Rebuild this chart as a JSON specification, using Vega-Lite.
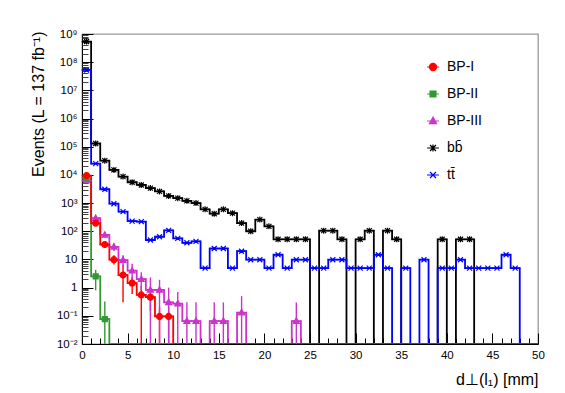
{
  "$schema": "https://vega.github.io/schema/vega-lite/v6.json",
  "width": 456,
  "height": 310,
  "autosize": {"type": "none"},
  "padding": {"left": 82, "top": 34, "right": 27, "bottom": 49},
  "background": "white",
  "config": {
    "view": {"stroke": "#999999", "strokeWidth": 1.3},
    "font": "Liberation Sans",
    "axis": {"domainColor": "black", "labelFont": "Liberation Sans", "titleFont": "Liberation Sans", "labelFontSize": 11.5, "titleFontSize": 16, "titleFontWeight": "normal", "labelColor": "black", "titleColor": "black", "grid": false, "tickColor": "black"},
    "legend": {"labelFont": "Liberation Sans", "labelFontSize": 14, "labelColor": "black", "symbolSize": 140, "symbolStrokeWidth": 1.2, "rowPadding": 13, "labelOffset": 7, "padding": 0}
  },
  "datasets": {
    "h": [
      {"x0": 0, "xc": 0.5, "BP-I": 9500, "BP-II": 8000, "BP-III": 6300, "bb\u0304": 540000000, "tt\u0304": 53000000},
      {"x0": 1, "xc": 1.5, "BP-I": 195, "BP-II": 2.5, "BP-III": 290, "bb\u0304": 130000, "tt\u0304": 25000},
      {"x0": 2, "xc": 2.5, "BP-I": 34, "BP-II": 0.076, "BP-III": 74, "bb\u0304": 32000, "tt\u0304": 3100},
      {"x0": 3, "xc": 3.5, "BP-I": 9.8, "BP-II": 0, "BP-III": 28, "bb\u0304": 15000, "tt\u0304": 950},
      {"x0": 4, "xc": 4.5, "BP-I": 2.8, "BP-II": 0, "BP-III": 9.5, "bb\u0304": 8700, "tt\u0304": 500},
      {"x0": 5, "xc": 5.5, "BP-I": 1.45, "BP-II": 0, "BP-III": 4.0, "bb\u0304": 5500, "tt\u0304": 230},
      {"x0": 6, "xc": 6.5, "BP-I": 0.55, "BP-II": 0, "BP-III": 2.0, "bb\u0304": 4400, "tt\u0304": 220},
      {"x0": 7, "xc": 7.5, "BP-I": 0.46, "BP-II": 0, "BP-III": 0.83, "bb\u0304": 3400, "tt\u0304": 49},
      {"x0": 8, "xc": 8.5, "BP-I": 0.095, "BP-II": 0, "BP-III": 0.83, "bb\u0304": 2600, "tt\u0304": 64},
      {"x0": 9, "xc": 9.5, "BP-I": 0.095, "BP-II": 0, "BP-III": 0.30, "bb\u0304": 1800, "tt\u0304": 108},
      {"x0": 10, "xc": 10.5, "BP-I": 0, "BP-II": 0, "BP-III": 0.27, "bb\u0304": 1500, "tt\u0304": 56},
      {"x0": 11, "xc": 11.5, "BP-I": 0, "BP-II": 0, "BP-III": 0.065, "bb\u0304": 1200, "tt\u0304": 39},
      {"x0": 12, "xc": 12.5, "BP-I": 0, "BP-II": 0, "BP-III": 0.065, "bb\u0304": 1000, "tt\u0304": 44},
      {"x0": 13, "xc": 13.5, "BP-I": 0, "BP-II": 0, "BP-III": 0, "bb\u0304": 600, "tt\u0304": 4.9},
      {"x0": 14, "xc": 14.5, "BP-I": 0, "BP-II": 0, "BP-III": 0.065, "bb\u0304": 420, "tt\u0304": 24.5},
      {"x0": 15, "xc": 15.5, "BP-I": 0, "BP-II": 0, "BP-III": 0.065, "bb\u0304": 600, "tt\u0304": 24.5},
      {"x0": 16, "xc": 16.5, "BP-I": 0, "BP-II": 0, "BP-III": 0, "bb\u0304": 440, "tt\u0304": 4.9},
      {"x0": 17, "xc": 17.5, "BP-I": 0, "BP-II": 0, "BP-III": 0.13, "bb\u0304": 195, "tt\u0304": 19.6},
      {"x0": 18, "xc": 18.5, "BP-I": 0, "BP-II": 0, "BP-III": 0, "bb\u0304": 100, "tt\u0304": 9.8},
      {"x0": 19, "xc": 19.5, "BP-I": 0, "BP-II": 0, "BP-III": 0, "bb\u0304": 260, "tt\u0304": 9.8},
      {"x0": 20, "xc": 20.5, "BP-I": 0, "BP-II": 0, "BP-III": 0, "bb\u0304": 150, "tt\u0304": 4.9},
      {"x0": 21, "xc": 21.5, "BP-I": 0, "BP-II": 0, "BP-III": 0, "bb\u0304": 52, "tt\u0304": 14.7},
      {"x0": 22, "xc": 22.5, "BP-I": 0, "BP-II": 0, "BP-III": 0, "bb\u0304": 52, "tt\u0304": 4.9},
      {"x0": 23, "xc": 23.5, "BP-I": 0, "BP-II": 0, "BP-III": 0.065, "bb\u0304": 52, "tt\u0304": 9.8},
      {"x0": 24, "xc": 24.5, "BP-I": 0, "BP-II": 0, "BP-III": 0, "bb\u0304": 52, "tt\u0304": 9.8},
      {"x0": 25, "xc": 25.5, "BP-I": 0, "BP-II": 0, "BP-III": 0, "bb\u0304": 0, "tt\u0304": 4.9},
      {"x0": 26, "xc": 26.5, "BP-I": 0, "BP-II": 0, "BP-III": 0, "bb\u0304": 105, "tt\u0304": 4.9},
      {"x0": 27, "xc": 27.5, "BP-I": 0, "BP-II": 0, "BP-III": 0, "bb\u0304": 105, "tt\u0304": 9.8},
      {"x0": 28, "xc": 28.5, "BP-I": 0, "BP-II": 0, "BP-III": 0, "bb\u0304": 52, "tt\u0304": 9.8},
      {"x0": 29, "xc": 29.5, "BP-I": 0, "BP-II": 0, "BP-III": 0, "bb\u0304": 0, "tt\u0304": 4.9},
      {"x0": 30, "xc": 30.5, "BP-I": 0, "BP-II": 0, "BP-III": 0, "bb\u0304": 52, "tt\u0304": 4.9},
      {"x0": 31, "xc": 31.5, "BP-I": 0, "BP-II": 0, "BP-III": 0, "bb\u0304": 105, "tt\u0304": 4.9},
      {"x0": 32, "xc": 32.5, "BP-I": 0, "BP-II": 0, "BP-III": 0, "bb\u0304": 0, "tt\u0304": 14.7},
      {"x0": 33, "xc": 33.5, "BP-I": 0, "BP-II": 0, "BP-III": 0, "bb\u0304": 105, "tt\u0304": 4.9},
      {"x0": 34, "xc": 34.5, "BP-I": 0, "BP-II": 0, "BP-III": 0, "bb\u0304": 52, "tt\u0304": 0},
      {"x0": 35, "xc": 35.5, "BP-I": 0, "BP-II": 0, "BP-III": 0, "bb\u0304": 0, "tt\u0304": 4.9},
      {"x0": 36, "xc": 36.5, "BP-I": 0, "BP-II": 0, "BP-III": 0, "bb\u0304": 0, "tt\u0304": 0},
      {"x0": 37, "xc": 37.5, "BP-I": 0, "BP-II": 0, "BP-III": 0, "bb\u0304": 0, "tt\u0304": 9.8},
      {"x0": 38, "xc": 38.5, "BP-I": 0, "BP-II": 0, "BP-III": 0, "bb\u0304": 0, "tt\u0304": 0},
      {"x0": 39, "xc": 39.5, "BP-I": 0, "BP-II": 0, "BP-III": 0, "bb\u0304": 52, "tt\u0304": 4.9},
      {"x0": 40, "xc": 40.5, "BP-I": 0, "BP-II": 0, "BP-III": 0, "bb\u0304": 0, "tt\u0304": 4.9},
      {"x0": 41, "xc": 41.5, "BP-I": 0, "BP-II": 0, "BP-III": 0, "bb\u0304": 52, "tt\u0304": 9.8},
      {"x0": 42, "xc": 42.5, "BP-I": 0, "BP-II": 0, "BP-III": 0, "bb\u0304": 52, "tt\u0304": 4.9},
      {"x0": 43, "xc": 43.5, "BP-I": 0, "BP-II": 0, "BP-III": 0, "bb\u0304": 0, "tt\u0304": 4.9},
      {"x0": 44, "xc": 44.5, "BP-I": 0, "BP-II": 0, "BP-III": 0, "bb\u0304": 0, "tt\u0304": 4.9},
      {"x0": 45, "xc": 45.5, "BP-I": 0, "BP-II": 0, "BP-III": 0, "bb\u0304": 0, "tt\u0304": 4.9},
      {"x0": 46, "xc": 46.5, "BP-I": 0, "BP-II": 0, "BP-III": 0, "bb\u0304": 0, "tt\u0304": 14.7},
      {"x0": 47, "xc": 47.5, "BP-I": 0, "BP-II": 0, "BP-III": 0, "bb\u0304": 0, "tt\u0304": 4.9},
      {"x0": 48, "xc": 48.5, "BP-I": 0, "BP-II": 0, "BP-III": 0, "bb\u0304": 0, "tt\u0304": 0},
      {"x0": 49, "xc": 49.5, "BP-I": 0, "BP-II": 0, "BP-III": 0, "bb\u0304": 0, "tt\u0304": 0},
      {"x0": 50, "BP-I": 0, "BP-II": 0, "BP-III": 0, "bb\u0304": 0, "tt\u0304": 0}
    ],
    "e": [
      {"s": "BP-I", "xc": 1.5, "lo": 165, "hi": 230},
      {"s": "BP-I", "xc": 2.5, "lo": 26, "hi": 44},
      {"s": "BP-I", "xc": 3.5, "lo": 6.6, "hi": 14},
      {"s": "BP-I", "xc": 4.5, "lo": 0.3, "hi": 6.5},
      {"s": "BP-I", "xc": 5.5, "lo": 0.6, "hi": 2.4},
      {"s": "BP-I", "xc": 6.5, "lo": 0, "hi": 1.2},
      {"s": "BP-I", "xc": 7.5, "lo": 0.15, "hi": 0.8},
      {"s": "BP-I", "xc": 8.5, "lo": 0, "hi": 0.2},
      {"s": "BP-I", "xc": 9.5, "lo": 0, "hi": 0.2},
      {"s": "BP-II", "xc": 1.5, "lo": 0.8, "hi": 4.3},
      {"s": "BP-II", "xc": 2.5, "lo": 0, "hi": 0.32},
      {"s": "BP-III", "xc": 1.5, "lo": 260, "hi": 320},
      {"s": "BP-III", "xc": 2.5, "lo": 62, "hi": 88},
      {"s": "BP-III", "xc": 3.5, "lo": 20, "hi": 37},
      {"s": "BP-III", "xc": 4.5, "lo": 5.5, "hi": 14},
      {"s": "BP-III", "xc": 5.5, "lo": 1.7, "hi": 7},
      {"s": "BP-III", "xc": 6.5, "lo": 0.8, "hi": 3.5},
      {"s": "BP-III", "xc": 7.5, "lo": 0, "hi": 2.3},
      {"s": "BP-III", "xc": 8.5, "lo": 0, "hi": 1.9},
      {"s": "BP-III", "xc": 9.5, "lo": 0, "hi": 1.0},
      {"s": "BP-III", "xc": 10.5, "lo": 0, "hi": 0.7},
      {"s": "BP-III", "xc": 11.5, "lo": 0, "hi": 0.3},
      {"s": "BP-III", "xc": 12.5, "lo": 0, "hi": 0.3},
      {"s": "BP-III", "xc": 14.5, "lo": 0, "hi": 0.3},
      {"s": "BP-III", "xc": 15.5, "lo": 0, "hi": 0.3},
      {"s": "BP-III", "xc": 17.5, "lo": 0, "hi": 0.5},
      {"s": "BP-III", "xc": 23.5, "lo": 0, "hi": 0.3}
    ]
  },
  "layer": [
    {
      "data": {"name": "h"},
      "transform": [{"fold": ["bb\u0304", "tt\u0304", "BP-III", "BP-II", "BP-I"], "as": ["s", "v"]}],
      "mark": {"type": "line", "interpolate": "step-after", "strokeWidth": 1.8, "invalid": "show", "clip": true},
      "encoding": {
        "x": {"field": "x0", "type": "quantitative", "scale": {"domain": [0, 50], "nice": false, "zero": false},
          "axis": {"values": [0, 5, 10, 15, 20, 25, 30, 35, 40, 45, 50], "tickSize": -11, "labelPadding": 16, "format": "d", "labelFlush": false,
            "title": "d\u22a5(l\u2081)  [mm]", "titleAnchor": "end", "titleY": 40, "titleBaseline": "alphabetic"}},
        "y": {"field": "v", "type": "quantitative", "scale": {"type": "log", "domain": [0.01, 1000000000], "clamp": true, "nice": false},
          "axis": {"values": [0.01, 0.1, 1, 10, 100, 1000, 10000, 100000, 1000000, 10000000, 100000000, 1000000000], "tickSize": -11, "labelPadding": 16,
            "labelExpr": "['10\u207b\u00b2','10\u207b\u00b9','1','10','10\u00b2','10\u00b3','10\u2074','10\u2075','10\u2076','10\u2077','10\u2078','10\u2079'][round(log(datum.value)/LN10)+2]",
            "title": "Events (L = 137 fb\u207b\u00b9)", "titleX": -44, "titleY": -3, "titleAlign": "right", "titleBaseline": "middle", "titleAngle": -90}},
        "color": {"field": "s", "type": "nominal", "scale": {"domain": ["tt\u0304", "bb\u0304", "BP-III", "BP-II", "BP-I"], "range": ["#0000ff", "#000000", "#cc33cc", "#339933", "#ff0000"]}, "legend": null}
      }
    },
    {
      "data": {"name": "e"},
      "mark": {"type": "rule", "strokeWidth": 1.4, "invalid": "show", "clip": true},
      "encoding": {
        "x": {"field": "xc", "type": "quantitative", "axis": null},
        "y": {"field": "lo", "type": "quantitative", "axis": null},
        "y2": {"field": "hi"},
        "color": {"field": "s", "type": "nominal", "legend": null}
      }
    },
    {
      "data": {"name": "h"},
      "transform": [{"fold": ["bb\u0304", "tt\u0304", "BP-III", "BP-II", "BP-I"], "as": ["s", "v"]}, {"filter": "datum.xc != null && datum.v > 0"}],
      "mark": {"type": "point", "filled": true, "size": 100, "strokeWidth": 1.2, "opacity": 1},
      "encoding": {
        "x": {"field": "xc", "type": "quantitative",
          "axis": {"orient": "bottom", "values": [1, 2, 3, 4, 6, 7, 8, 9, 11, 12, 13, 14, 16, 17, 18, 19, 21, 22, 23, 24, 26, 27, 28, 29, 31, 32, 33, 34, 36, 37, 38, 39, 41, 42, 43, 44, 46, 47, 48, 49], "tickSize": -6, "labels": false, "domain": false, "title": null}},
        "y": {"field": "v", "type": "quantitative",
          "axis": {"orient": "left", "values": [0.02, 0.03, 0.04, 0.05, 0.06, 0.07, 0.08, 0.09, 0.2, 0.3, 0.4, 0.5, 0.6, 0.7, 0.8, 0.9, 2, 3, 4, 5, 6, 7, 8, 9, 20, 30, 40, 50, 60, 70, 80, 90, 200, 300, 400, 500, 600, 700, 800, 900, 2000, 3000, 4000, 5000, 6000, 7000, 8000, 9000, 20000, 30000, 40000, 50000, 60000, 70000, 80000, 90000, 200000, 300000, 400000, 500000, 600000, 700000, 800000, 900000, 2000000, 3000000, 4000000, 5000000, 6000000, 7000000, 8000000, 9000000, 20000000, 30000000, 40000000, 50000000, 60000000, 70000000, 80000000, 90000000, 200000000, 300000000, 400000000, 500000000, 600000000, 700000000, 800000000, 900000000], "tickSize": -6, "tickColor": "#444444", "labels": false, "domain": false, "title": null}},
        "fill": {"field": "s", "type": "nominal", "scale": {"domain": ["BP-I", "BP-II", "BP-III", "bb\u0304", "tt\u0304"], "range": ["#ff0000", "#339933", "#cc33cc", "#000000", "#0000ff"]},
          "legend": {"title": null, "orient": "none", "legendX": 344, "legendY": 26}},
        "stroke": {"field": "s", "type": "nominal", "scale": {"domain": ["BP-I", "BP-II", "BP-III", "bb\u0304", "tt\u0304"], "range": ["#ff0000", "#339933", "#cc33cc", "#000000", "#0000ff"]},
          "legend": {"title": null, "orient": "none", "legendX": 344, "legendY": 26}},
        "shape": {"field": "s", "type": "nominal", "scale": {"domain": ["BP-I", "BP-II", "BP-III", "bb\u0304", "tt\u0304"],
            "range": ["M-1,0L1,0M0.6,0A0.6,0.6,0,1,1,-0.6,0A0.6,0.6,0,1,1,0.6,0Z", "M-1,0L1,0M-0.5,-0.5L0.5,-0.5L0.5,0.5L-0.5,0.5Z", "M-1,0L1,0M0,-0.65L0.6,0.45L-0.6,0.45Z", "M-1,0L1,0M0,-0.6L0,0.6M-0.5,-0.5L0.5,0.5M-0.5,0.5L0.5,-0.5", "M-1,0L1,0M-0.5,-0.5L0.5,0.5M-0.5,0.5L0.5,-0.5"]},
          "legend": {"title": null, "orient": "none", "legendX": 344, "legendY": 26}}
      }
    }
  ],
  "resolve": {"axis": {"x": "independent", "y": "independent"}}
}
